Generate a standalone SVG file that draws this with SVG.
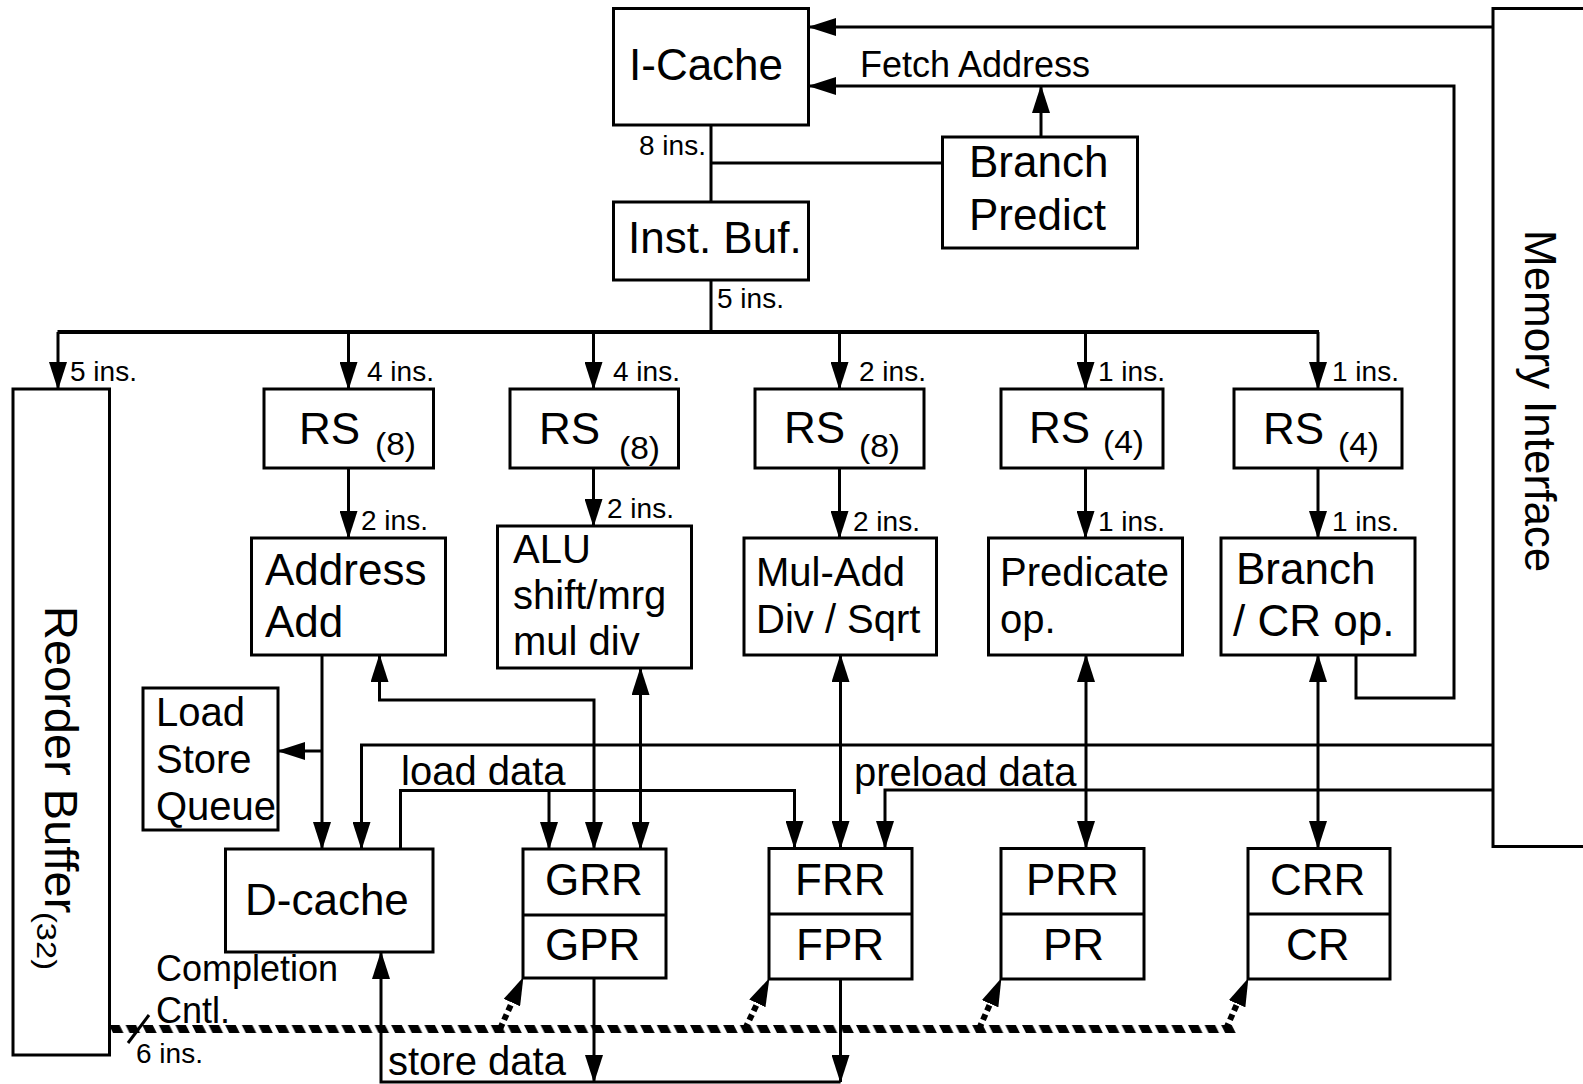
<svg xmlns="http://www.w3.org/2000/svg" width="1583" height="1084" viewBox="0 0 1583 1084">
  <defs>
    <style>
      .box { fill: #fff; stroke: #000; stroke-width: 3; }
      .t { font-family: "Liberation Sans", Arial, Helvetica, sans-serif; fill: #000; }
      .big { font-size: 44px; }
      .mid { font-size: 40px; }
      .sm { font-size: 28px; }
      .sub { font-size: 31px; }
      .wire { fill: none; stroke: #000; stroke-width: 3; }
      .bus { fill: none; stroke: #000; stroke-width: 4; }
      .ctl { fill: none; stroke: #000; stroke-width: 6; stroke-dasharray: 6 4; }
    </style>
    <marker id="ah" viewBox="0 0 28 18" markerWidth="28" markerHeight="18" refX="27" refY="9" orient="auto-start-reverse" markerUnits="userSpaceOnUse">
      <path d="M0,0 L28,9 L0,18 z" fill="#000"/>
    </marker>
    <pattern id="hatch" patternUnits="userSpaceOnUse" x="109" y="1025" width="16.6" height="8">
      <polygon points="0,0 10.5,0 14.5,8 4,8" fill="#000"/>
    </pattern>
  </defs>

  <!-- connectors -->
  <g id="connectors">
    <!-- instruction fetch -->
    <path class="wire" d="M1493,27 H809" marker-end="url(#ah)"/>
    <path class="wire" d="M1356,655 V698 H1454 V86 H809" marker-end="url(#ah)"/>
    <path class="wire" d="M1041,137 V86" marker-end="url(#ah)"/>
    <path class="wire" d="M711,125 V202 M711,163 H943 M711,280 V332"/>
    <!-- dispatch bus -->
    <path class="bus" d="M57.5,332 H1319"/>
    <path class="wire" d="M58,332 V389" marker-end="url(#ah)"/>
    <path class="wire" d="M348.5,332 V389" marker-end="url(#ah)"/>
    <path class="wire" d="M593.5,332 V389" marker-end="url(#ah)"/>
    <path class="wire" d="M839.5,332 V389" marker-end="url(#ah)"/>
    <path class="wire" d="M1085.5,332 V389" marker-end="url(#ah)"/>
    <path class="wire" d="M1318,332 V389" marker-end="url(#ah)"/>
    <!-- reservation stations to units -->
    <path class="wire" d="M348.5,468 V538" marker-end="url(#ah)"/>
    <path class="wire" d="M593.5,468 V526" marker-end="url(#ah)"/>
    <path class="wire" d="M839.5,468 V538" marker-end="url(#ah)"/>
    <path class="wire" d="M1085.5,468 V538" marker-end="url(#ah)"/>
    <path class="wire" d="M1318,468 V538" marker-end="url(#ah)"/>
    <!-- address path -->
    <path class="wire" d="M322,655 V849" marker-end="url(#ah)"/>
    <path class="wire" d="M322,751 H278" marker-end="url(#ah)"/>
    <path class="wire" d="M379.5,655 V700 H594 V849" marker-start="url(#ah)" marker-end="url(#ah)"/>
    <!-- unit to register file -->
    <path class="wire" d="M640.5,668 V849" marker-start="url(#ah)" marker-end="url(#ah)"/>
    <path class="wire" d="M840.5,655 V848" marker-start="url(#ah)" marker-end="url(#ah)"/>
    <path class="wire" d="M1086,655 V848" marker-start="url(#ah)" marker-end="url(#ah)"/>
    <path class="wire" d="M1318,655 V848" marker-start="url(#ah)" marker-end="url(#ah)"/>
    <!-- memory side data -->
    <path class="wire" d="M1493,745 H361.5 V849" marker-end="url(#ah)"/>
    <path class="wire" d="M1493,790 H885 V848" marker-end="url(#ah)"/>
    <!-- load data -->
    <path class="wire" d="M400.5,849 V790.5 H794.5 V848" marker-end="url(#ah)"/>
    <path class="wire" d="M549,790.5 V849" marker-end="url(#ah)"/>
    <!-- store data -->
    <path class="wire" d="M594,978 V1082" marker-end="url(#ah)"/>
    <path class="wire" d="M840.5,979 V1082" marker-end="url(#ah)"/>
    <path class="wire" d="M840.5,1082 H381 V952" marker-end="url(#ah)"/>
    <!-- completion control -->
    <rect x="109" y="1025" width="1127" height="8" fill="url(#hatch)"/>
    <path class="ctl" d="M500,1029 L512.3,1001.7"/>
    <path d="M512.3,1001.7 L523,978" stroke="none" fill="none" marker-end="url(#ah)"/>
    <path class="ctl" d="M745,1029 L757.8,1002.4"/>
    <path d="M757.8,1002.4 L769,979" stroke="none" fill="none" marker-end="url(#ah)"/>
    <path class="ctl" d="M979,1029 L990.5,1002.8"/>
    <path d="M990.5,1002.8 L1001,979" stroke="none" fill="none" marker-end="url(#ah)"/>
    <path class="ctl" d="M1226,1029 L1237.5,1002.8"/>
    <path d="M1237.5,1002.8 L1248,979" stroke="none" fill="none" marker-end="url(#ah)"/>
    <path class="wire" d="M149,1015 L128,1043"/>
  </g>

  <!-- connector labels -->
  <g id="labels" class="t">
    <text x="860" y="77" style="font-size:36px">Fetch Address</text>
    <text class="sm" x="639" y="155">8 ins.</text>
    <text class="sm" x="717" y="308">5 ins.</text>
    <text class="sm" x="70" y="381">5 ins.</text>
    <text class="sm" x="367" y="381">4 ins.</text>
    <text class="sm" x="613" y="381">4 ins.</text>
    <text class="sm" x="859" y="381">2 ins.</text>
    <text class="sm" x="1098" y="381">1 ins.</text>
    <text class="sm" x="1332" y="381">1 ins.</text>
    <text class="sm" x="361" y="530">2 ins.</text>
    <text class="sm" x="607" y="518">2 ins.</text>
    <text class="sm" x="853" y="531">2 ins.</text>
    <text class="sm" x="1098" y="531">1 ins.</text>
    <text class="sm" x="1332" y="531">1 ins.</text>
    <text class="mid" x="401" y="785">load data</text>
    <text class="mid" x="854" y="786">preload data</text>
    <text class="mid" x="388" y="1075">store data</text>
    <text x="156" y="981" style="font-size:36px">Completion</text>
    <text x="156" y="1023" style="font-size:36px">Cntl.</text>
    <text class="sm" x="136" y="1063">6 ins.</text>
  </g>

  <g id="icache">
    <rect class="box" x="613.5" y="8.5" width="195" height="116.5"/>
    <text class="t big" x="629" y="80">I-Cache</text>
  </g>
  <g id="branch-predict">
    <rect class="box" x="942.5" y="137" width="195" height="111"/>
    <text class="t big" x="969" y="177">Branch</text>
    <text class="t big" x="969" y="230">Predict</text>
  </g>
  <g id="inst-buf">
    <rect class="box" x="613.5" y="202" width="195" height="78"/>
    <text class="t big" x="628" y="253">Inst. Buf.</text>
  </g>
  <g id="memory-interface">
    <rect class="box" x="1493" y="8.5" width="200" height="838"/>
    <text class="t big" transform="translate(1525,230) rotate(90)">Memory Interface</text>
  </g>
  <g id="reorder-buffer">
    <rect class="box" x="13" y="389" width="96.5" height="666"/>
    <text class="t" transform="translate(45,606) rotate(90)" style="font-size:47px">Reorder Buffer</text>
    <text class="t" transform="translate(37,912) rotate(90)" style="font-size:28px" textLength="58" lengthAdjust="spacingAndGlyphs">(32)</text>
  </g>

  <g id="rs-addr">
    <rect class="box" x="264" y="389" width="169.5" height="79"/>
    <text class="t big" x="299" y="444">RS</text>
    <text class="t sub" x="375" y="455" textLength="41" lengthAdjust="spacingAndGlyphs">(8)</text>
  </g>
  <g id="rs-alu">
    <rect class="box" x="510" y="389" width="168.5" height="79"/>
    <text class="t big" x="539" y="444">RS</text>
    <text class="t sub" x="619" y="459" textLength="41" lengthAdjust="spacingAndGlyphs">(8)</text>
  </g>
  <g id="rs-fp">
    <rect class="box" x="755" y="389" width="169" height="79"/>
    <text class="t big" x="784" y="443">RS</text>
    <text class="t sub" x="859" y="457" textLength="41" lengthAdjust="spacingAndGlyphs">(8)</text>
  </g>
  <g id="rs-pred">
    <rect class="box" x="1001" y="389" width="162" height="79"/>
    <text class="t big" x="1029" y="443">RS</text>
    <text class="t sub" x="1103" y="453" textLength="41" lengthAdjust="spacingAndGlyphs">(4)</text>
  </g>
  <g id="rs-branch">
    <rect class="box" x="1234" y="389" width="168" height="79"/>
    <text class="t big" x="1263" y="444">RS</text>
    <text class="t sub" x="1338" y="455" textLength="41" lengthAdjust="spacingAndGlyphs">(4)</text>
  </g>

  <g id="address-add">
    <rect class="box" x="251.5" y="538" width="194" height="117"/>
    <text class="t big" x="265" y="585">Address</text>
    <text class="t big" x="265" y="637">Add</text>
  </g>
  <g id="alu">
    <rect class="box" x="497.5" y="526" width="194" height="142"/>
    <text class="t mid" x="513" y="563">ALU</text>
    <text class="t mid" x="513" y="609">shift/mrg</text>
    <text class="t mid" x="513" y="655">mul div</text>
  </g>
  <g id="mul-add">
    <rect class="box" x="744" y="538" width="192.5" height="117"/>
    <text class="t mid" x="756" y="586">Mul-Add</text>
    <text class="t mid" x="756" y="633">Div / Sqrt</text>
  </g>
  <g id="predicate">
    <rect class="box" x="988.5" y="538" width="194" height="117"/>
    <text class="t mid" x="1000" y="586">Predicate</text>
    <text class="t mid" x="1000" y="633">op.</text>
  </g>
  <g id="branch-cr">
    <rect class="box" x="1221" y="538" width="194" height="117"/>
    <text class="t big" x="1236" y="584">Branch</text>
    <text class="t big" x="1233" y="636">/ CR op.</text>
  </g>

  <g id="load-store-queue">
    <rect class="box" x="143" y="688" width="135" height="142"/>
    <text class="t mid" x="156" y="726">Load</text>
    <text class="t mid" x="156" y="773">Store</text>
    <text class="t mid" x="156" y="820">Queue</text>
  </g>
  <g id="dcache">
    <rect class="box" x="225.5" y="849" width="207.5" height="103"/>
    <text class="t big" x="245" y="915">D-cache</text>
  </g>
  <g id="gpr">
    <rect class="box" x="523" y="849" width="143" height="129"/>
    <line x1="523" y1="915" x2="666" y2="915" stroke="#000" stroke-width="3"/>
    <text class="t big" x="545" y="895">GRR</text>
    <text class="t big" x="545" y="960">GPR</text>
  </g>
  <g id="fpr">
    <rect class="box" x="769" y="848.5" width="143" height="130.5"/>
    <line x1="769" y1="914" x2="912" y2="914" stroke="#000" stroke-width="3"/>
    <text class="t big" x="795" y="895">FRR</text>
    <text class="t big" x="796" y="960">FPR</text>
  </g>
  <g id="pr">
    <rect class="box" x="1001" y="848.5" width="143" height="130.5"/>
    <line x1="1001" y1="914" x2="1144" y2="914" stroke="#000" stroke-width="3"/>
    <text class="t big" x="1026" y="895">PRR</text>
    <text class="t big" x="1043" y="960">PR</text>
  </g>
  <g id="cr">
    <rect class="box" x="1248" y="848.5" width="142" height="130.5"/>
    <line x1="1248" y1="914" x2="1390" y2="914" stroke="#000" stroke-width="3"/>
    <text class="t big" x="1270" y="895">CRR</text>
    <text class="t big" x="1286" y="960">CR</text>
  </g>
</svg>
